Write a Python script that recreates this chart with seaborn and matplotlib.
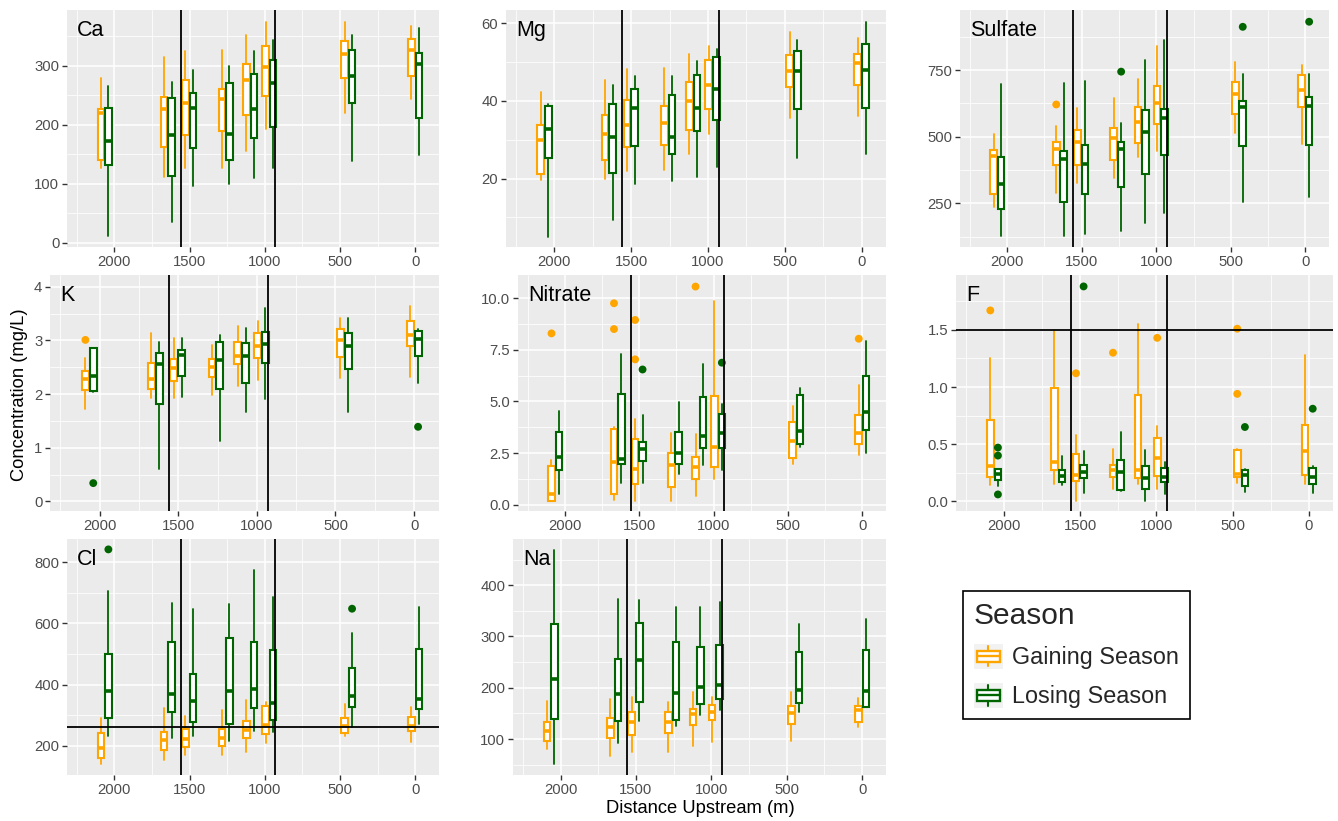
import matplotlib
matplotlib.use("Agg")
import matplotlib.pyplot as plt
from matplotlib.legend_handler import HandlerBase
from matplotlib.patches import Rectangle
from matplotlib.lines import Line2D
from matplotlib.ticker import MultipleLocator
import seaborn as sns
import pandas as pd

# sampling sites (distance upstream, m) and season groups
SITES = [2065, 1645, 1503, 1260, 1097, 970, 445, 0]
SEASONS = ["Gaining Season", "Losing Season"]
COLORS = {"Gaining Season": "#FFA500", "Losing Season": "#006400"}
BREAKS = [1558, 930]

# box stats per site: [whisker low, q1, median, q3, whisker high]
CA_GAIN = [[127, 140, 219, 227, 279], [112, 162, 227, 247, 314], [126, 182, 237, 275, 325],
           [127, 189, 244, 261, 326], [156, 216, 276, 303, 352], [193, 248, 298, 333, 373],
           [219, 279, 319, 342, 373], [243, 283, 326, 345, 367]]
CA_LOSE = [[11, 131, 173, 228, 265], [36, 113, 183, 245, 273], [96, 160, 228, 253, 293],
           [100, 141, 184, 270, 300], [109, 177, 227, 285, 324], [126, 196, 270, 309, 343],
           [139, 237, 283, 326, 351], [148, 212, 302, 322, 364]]

MG_GAIN = [[19.6, 21.3, 29.9, 33.8, 42.2], [20.0, 24.9, 31.4, 36.3, 45.5], [22.0, 28.2, 33.8, 40.2, 48.1],
           [22.1, 28.7, 34.4, 38.7, 48.6], [26.4, 32.6, 40.0, 44.9, 52.0], [31.4, 37.9, 44.1, 50.5, 54.2],
           [35.7, 43.5, 47.8, 51.9, 57.8], [36.2, 44.0, 49.7, 52.2, 56.3]]
MG_LOSE = [[5.1, 25.2, 32.7, 38.7, 39.3], [9.4, 21.5, 30.7, 39.2, 44.2], [18.5, 28.3, 38.1, 43.0, 46.3],
           [19.3, 26.4, 30.6, 41.5, 46.3], [20.4, 32.3, 38.1, 46.7, 50.2], [23.0, 35.0, 43.0, 51.2, 53.3],
           [25.2, 37.9, 47.7, 52.8, 55.8], [26.3, 38.2, 47.9, 54.7, 60.2]]

SO4_GAIN = [[235, 285, 429, 450, 510], [291, 396, 456, 481, 540], [327, 394, 479, 525, 606],
            [347, 412, 496, 534, 647], [425, 477, 556, 610, 715], [446, 547, 625, 691, 840],
            [516, 585, 660, 706, 780], [472, 612, 675, 730, 770]]
SO4_LOSE = [[129, 229, 324, 425, 697], [129, 255, 415, 447, 702], [137, 284, 397, 469, 710],
            [147, 310, 454, 479, 552], [177, 360, 519, 600, 786], [216, 430, 569, 605, 864],
            [256, 465, 610, 634, 735], [275, 470, 617, 649, 735]]
SO4_OUT_GAIN = [(1645, 621)]
SO4_OUT_LOSE = [(1260, 744), (445, 912), (0, 931)]

K_GAIN = [[1.72, 2.07, 2.28, 2.43, 2.68], [1.92, 2.10, 2.29, 2.58, 3.13], [1.92, 2.25, 2.49, 2.66, 3.04],
          [1.99, 2.32, 2.51, 2.66, 2.92], [2.15, 2.56, 2.71, 2.97, 3.27], [2.27, 2.67, 2.89, 3.13, 3.37],
          [2.30, 2.69, 3.00, 3.21, 3.42], [2.31, 2.89, 3.10, 3.37, 3.65]]
K_LOSE = [[2.03, 2.06, 2.33, 2.86, 2.86], [0.61, 1.82, 2.56, 2.77, 2.98], [1.95, 2.34, 2.72, 2.82, 3.04],
          [1.13, 2.09, 2.63, 2.97, 3.10], [1.67, 2.21, 2.71, 2.96, 3.24], [1.90, 2.58, 2.93, 3.16, 3.61],
          [1.67, 2.46, 2.89, 3.13, 3.41], [2.21, 2.71, 3.02, 3.17, 3.22]]
K_OUT_GAIN = [(2065, 3.01)]
K_OUT_LOSE = [(2065, 0.34), (0, 1.39)]

NO3_GAIN = [[0.18, 0.18, 0.53, 1.86, 2.14], [0.21, 0.53, 2.06, 3.66, 3.74], [0.18, 0.99, 1.75, 3.20, 4.14],
            [0.18, 0.86, 1.93, 2.52, 3.45], [0.40, 1.23, 1.80, 2.31, 3.40], [1.23, 1.80, 2.80, 5.28, 9.87],
            [1.96, 2.28, 3.07, 4.01, 4.77], [2.39, 2.96, 3.48, 4.32, 5.79]]
NO3_LOSE = [[0.50, 1.70, 2.31, 3.50, 4.55], [1.07, 1.96, 2.20, 5.34, 7.28], [1.07, 2.10, 2.69, 3.04, 4.34],
            [1.47, 1.99, 2.51, 3.50, 4.98], [1.91, 2.75, 3.32, 5.23, 6.81], [1.70, 2.72, 3.45, 4.37, 4.90],
            [2.77, 2.96, 3.58, 5.29, 5.66], [2.51, 3.64, 4.50, 6.23, 7.93]]
NO3_OUT_GAIN = [(2065, 8.30), (1645, 9.76), (1645, 8.51), (1503, 8.95), (1503, 7.04), (1097, 10.57), (0, 8.04)]
NO3_OUT_LOSE = [(1503, 6.55), (970, 6.88)]

F_GAIN = [[0.14, 0.21, 0.31, 0.71, 1.25], [0.15, 0.27, 0.34, 0.99, 1.49], [0.00, 0.18, 0.23, 0.41, 0.58],
          [0.11, 0.21, 0.27, 0.32, 0.46], [0.15, 0.20, 0.27, 0.93, 1.55], [0.11, 0.22, 0.38, 0.55, 0.66],
          [0.16, 0.21, 0.24, 0.45, 0.46], [0.15, 0.23, 0.44, 0.67, 1.28]]
F_LOSE = [[0.13, 0.19, 0.24, 0.28, 0.28], [0.14, 0.17, 0.22, 0.27, 0.40], [0.07, 0.20, 0.26, 0.32, 0.44],
          [0.09, 0.10, 0.26, 0.36, 0.61], [0.00, 0.11, 0.20, 0.31, 0.45], [0.06, 0.17, 0.21, 0.29, 0.34],
          [0.08, 0.13, 0.23, 0.27, 0.28], [0.07, 0.15, 0.21, 0.29, 0.31]]
F_OUT_GAIN = [(2065, 1.67), (1503, 1.12), (1260, 1.30), (970, 1.43), (445, 1.51), (445, 0.94)]
F_OUT_LOSE = [(2065, 0.47), (2065, 0.40), (2065, 0.06), (1503, 1.88), (445, 0.65), (0, 0.81)]

CL_GAIN = [[140, 158, 191, 243, 292], [153, 186, 219, 245, 322], [168, 197, 221, 256, 298],
           [169, 200, 226, 255, 317], [180, 226, 252, 282, 350], [208, 237, 266, 331, 344],
           [230, 243, 263, 289, 337], [213, 249, 264, 293, 328]]
CL_LOSE = [[230, 290, 378, 501, 707], [226, 309, 370, 538, 667], [233, 279, 345, 433, 648],
           [216, 271, 379, 552, 663], [249, 323, 386, 540, 776], [246, 284, 339, 514, 685],
           [262, 325, 363, 454, 568], [270, 319, 353, 517, 652]]
CL_OUT_LOSE = [(2065, 842), (445, 648)]

NA_GAIN = [[80, 97, 116, 134, 174], [67, 102, 124, 142, 179], [75, 108, 134, 153, 183],
           [74, 112, 134, 153, 172], [87, 127, 148, 159, 191], [95, 137, 153, 166, 183],
           [96, 130, 150, 165, 192], [123, 133, 157, 164, 181]]
NA_LOSE = [[51, 140, 218, 324, 469], [92, 136, 188, 256, 373], [136, 172, 255, 326, 371],
           [126, 138, 189, 290, 357], [147, 168, 201, 280, 358], [157, 179, 205, 284, 367],
           [153, 170, 196, 270, 325], [162, 162, 194, 274, 334]]

# guideline values
CL_LIMIT = 260
F_LIMIT = 1.5

W, H = 1338, 821

# name, gaining, losing, outliers gaining, outliers losing, ylim, major, minor, hline, pixel box (l, r, t, b)
PANELS = [
    ("Ca", CA_GAIN, CA_LOSE, [], [], (-7, 394), 100, 50, None, (67, 439, 10, 247)),
    ("Mg", MG_GAIN, MG_LOSE, [], [], (2.4, 63.4), 20, 10, None, (506, 886, 10, 247)),
    ("Sulfate", SO4_GAIN, SO4_LOSE, SO4_OUT_GAIN, SO4_OUT_LOSE, (87, 975), 250, 125, None, (960, 1329, 10, 247)),
    ("K", K_GAIN, K_LOSE, K_OUT_GAIN, K_OUT_LOSE, (-0.18, 4.22), 1, 0.5, None, (50, 439, 275, 511)),
    ("Nitrate", NO3_GAIN, NO3_LOSE, NO3_OUT_GAIN, NO3_OUT_LOSE, (-0.31, 11.13), 2.5, 1.25, None, (518, 886, 275, 511)),
    ("F", F_GAIN, F_LOSE, F_OUT_GAIN, F_OUT_LOSE, (-0.085, 1.98), 0.5, 0.25, F_LIMIT, (956, 1333, 275, 511)),
    ("Cl", CL_GAIN, CL_LOSE, [], CL_OUT_LOSE, (104, 876), 200, 100, CL_LIMIT, (67, 439, 539, 775)),
    ("Na", NA_GAIN, NA_LOSE, [], [], (30, 490), 100, 50, None, (513, 886, 539, 775)),
]

DODGE = 25


class BoxKey(HandlerBase):
    def create_artists(self, legend, orig_handle, xdescent, ydescent, width, height, fontsize, trans):
        c = orig_handle.get_color()
        x0, y0 = -xdescent, -ydescent
        bg = Rectangle((x0, y0), width, height, facecolor="#F2F2F2", edgecolor="none", transform=trans)
        wl = Line2D([x0 + width / 2] * 2, [y0 + 0.1 * height, y0 + 0.9 * height], color=c, lw=1.5, transform=trans)
        bx = Rectangle((x0 + 0.12 * width, y0 + 0.28 * height), 0.76 * width, 0.44 * height,
                       facecolor="white", edgecolor=c, lw=1.7, transform=trans)
        md = Line2D([x0 + 0.12 * width, x0 + 0.88 * width], [y0 + height / 2] * 2, color=c, lw=1.7, transform=trans)
        return [bg, wl, bx, md]


def draw_boxes(ax, boxes, offset, color):
    stats = [dict(whislo=b[0], q1=b[1], med=b[2], q3=b[3], whishi=b[4], fliers=[]) for b in boxes]
    ax.bxp(stats, positions=[s + offset for s in SITES], widths=44, patch_artist=True,
           showcaps=False, showfliers=False, manage_ticks=False,
           boxprops=dict(facecolor="white", edgecolor=color, linewidth=1.5),
           whiskerprops=dict(color=color, linewidth=1.3),
           medianprops=dict(color=color, linewidth=2.6, solid_capstyle="butt"))


sns.set_theme(style="darkgrid", rc={
    "axes.facecolor": "#EBEBEB", "grid.color": "white", "figure.facecolor": "white",
    "xtick.color": "#333333", "ytick.color": "#333333",
})
plt.rcParams["font.family"] = ["Liberation Sans", "DejaVu Sans"]

fig = plt.figure(figsize=(W / 100, H / 100), dpi=100)

for name, gain, lose, out_g, out_l, ylim, major, minor, hline, (l, r, t, b) in PANELS:
    ax = fig.add_axes([l / W, 1 - b / H, (r - l) / W, (b - t) / H])
    ax.set_axisbelow(True)
    draw_boxes(ax, gain, DODGE, COLORS["Gaining Season"])
    draw_boxes(ax, lose, -DODGE, COLORS["Losing Season"])

    pts = [(x + DODGE, y, "Gaining Season") for x, y in out_g] + \
          [(x - DODGE, y, "Losing Season") for x, y in out_l]
    if pts:
        df = pd.DataFrame(pts, columns=["x", "y", "season"])
        sns.scatterplot(data=df, x="x", y="y", hue="season", palette=COLORS, s=32,
                        edgecolor="none", legend=False, ax=ax, zorder=3)

    for xv in BREAKS:
        ax.axvline(xv, color="black", lw=1.3, zorder=4)
    if hline is not None:
        ax.axhline(hline, color="black", lw=1.3, zorder=4)

    ax.set_xlim(2315, -158)
    ax.set_ylim(*ylim)
    ax.xaxis.set_major_locator(MultipleLocator(500))
    ax.xaxis.set_minor_locator(MultipleLocator(250))
    ax.yaxis.set_major_locator(MultipleLocator(major))
    ax.yaxis.set_minor_locator(MultipleLocator(minor))
    ax.grid(which="major", color="white", lw=1.1)
    ax.grid(which="minor", color="white", lw=0.55)
    ax.tick_params(which="major", length=3.5, width=1, direction="out", labelsize=10.7,
                   labelcolor="#4D4D4D", pad=2, bottom=True, left=True)
    ax.tick_params(which="minor", length=0)
    for sp in ax.spines.values():
        sp.set_visible(False)
    ax.set_xlabel("")
    ax.set_ylabel("")
    ax.annotate(name, xy=(0, 1), xycoords="axes fraction", xytext=(10, -26),
                textcoords="offset pixels", fontsize=15.5, color="black", va="baseline", ha="left")

fig.text(20 / W, 1 - 395 / H, "Concentration (mg/L)", rotation=90, ha="center", va="center",
         fontsize=13.2, color="black")
fig.text(700 / W, 1 - 808 / H, "Distance Upstream (m)", ha="center", va="center",
         fontsize=13.2, color="black")

handles = [Line2D([], [], color=COLORS[s]) for s in SEASONS]
leg = fig.legend(handles, SEASONS, handler_map={Line2D: BoxKey()}, loc="upper left",
                 bbox_to_anchor=(963 / W, 1 - 591 / H), title="Season", fontsize=16.8,
                 title_fontsize=21.5, frameon=True, fancybox=False, edgecolor="black",
                 facecolor="white", framealpha=1, handlelength=1.28, handleheight=1.28,
                 handletextpad=0.38, labelspacing=0.6, borderpad=0.45, borderaxespad=0,
                 alignment="left")
leg.get_frame().set_linewidth(1.2)

fig.savefig("out.png", dpi=100)
